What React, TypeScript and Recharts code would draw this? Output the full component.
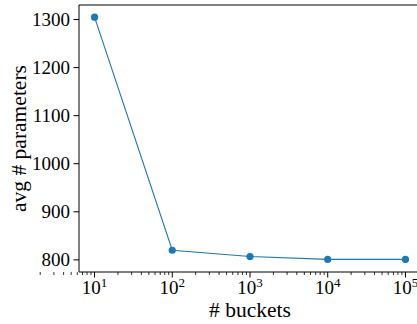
import { LineChart, Line, XAxis, YAxis } from 'recharts';

const buckets = [10, 100, 1000, 10000, 100000];
const avgParams = [1305, 820, 807, 801, 801];
const yTicks = [800, 900, 1000, 1100, 1200, 1300];
const majorTicks = [10, 100, 1000, 10000, 100000];

// minor log ticks (2..9 x 10^k) inside the visible range
const minorTicks: number[] = [];
for (let k = 0; k <= 4; k++) {
  for (let m = 2; m <= 9; m++) minorTicks.push(m * Math.pow(10, k));
}
const xTicks = [...minorTicks, ...majorTicks].sort((a, b) => a - b);

const data = buckets.map((b, i) => ({ buckets: b, params: avgParams[i] }));

const FONT = '"Liberation Serif", "Times New Roman", serif';
const COLOR = '#1f77b4';
const X_DOMAIN = [Math.pow(10, 0.8), Math.pow(10, 5.2)];
const Y_DOMAIN = [774.75, 1330.25];
const CHART_W = 430;
const MARGIN = { top: 5, right: 9, bottom: 0, left: 0 };

// y ticks plus the top edge of the axes box (drawn as the top spine)
const yAxisTicks = [...yTicks, Y_DOMAIN[1]];

function LogTick({ x, y, payload }: any) {
  const v = payload.value;
  const exp = Math.log10(v);
  const major = Math.abs(exp - Math.round(exp)) < 1e-9;
  if (!major) {
    return <line x1={x} x2={x} y1={y} y2={y + 3} stroke="#000" strokeWidth={0.8} />;
  }
  return (
    <g>
      <line x1={x} x2={x} y1={y} y2={y + 5.5} stroke="#000" strokeWidth={1} />
      <text x={x} y={y + 22} textAnchor="middle" fontFamily={FONT} fill="#000">
        <tspan fontSize={19}>10</tspan>
        <tspan fontSize={13} dy={-7}>
          {Math.round(exp)}
        </tspan>
      </text>
    </g>
  );
}

function ValueTick({ x, y, payload }: any) {
  if (payload.value === Y_DOMAIN[1]) {
    // top spine
    return <line x1={x} x2={CHART_W} y1={y} y2={y} stroke="#000" strokeWidth={1.2} />;
  }
  return (
    <g>
      <line x1={x - 5.5} x2={x} y1={y} y2={y} stroke="#000" strokeWidth={1} />
      <text x={x - 9} y={y + 6.5} textAnchor="end" fontFamily={FONT} fontSize={19} fill="#000">
        {payload.value}
      </text>
    </g>
  );
}

function XLabel({ viewBox }: any) {
  const cx = viewBox.x + viewBox.width / 2;
  return (
    <text x={cx} y={317} textAnchor="middle" fontFamily={FONT} fontSize={21.5} fill="#000">
      # buckets
    </text>
  );
}

function YLabel({ viewBox }: any) {
  const cy = viewBox.y + viewBox.height / 2;
  return (
    <text
      x={25.5}
      y={cy}
      transform={`rotate(-90, 25.5, ${cy})`}
      textAnchor="middle"
      fontFamily={FONT}
      fontSize={21.5}
      fill="#000"
    >
      avg # parameters
    </text>
  );
}

export default function App() {
  return (
    <div
      style={{
        position: 'absolute',
        left: 0,
        top: 0,
        width: 417,
        height: 324,
        overflow: 'hidden',
        background: '#fff',
      }}
    >
      <LineChart width={CHART_W} height={324} data={data} margin={MARGIN}>
        <XAxis
          dataKey="buckets"
          type="number"
          scale="log"
          domain={X_DOMAIN}
          allowDataOverflow
          ticks={xTicks}
          interval={0}
          height={52}
          tickSize={0}
          tickMargin={0}
          tickLine={false}
          tick={<LogTick />}
          axisLine={{ stroke: '#000', strokeWidth: 1 }}
          label={<XLabel />}
        />
        <YAxis
          type="number"
          domain={Y_DOMAIN}
          allowDataOverflow
          ticks={yAxisTicks}
          interval={0}
          width={79}
          tickSize={0}
          tickMargin={0}
          tickLine={false}
          tick={<ValueTick />}
          axisLine={{ stroke: '#000', strokeWidth: 1 }}
          label={<YLabel />}
        />
        <Line
          dataKey="params"
          stroke={COLOR}
          strokeWidth={1.1}
          dot={{ r: 3.6, fill: COLOR, stroke: COLOR, strokeWidth: 0 }}
          activeDot={false}
          isAnimationActive={false}
        />
      </LineChart>
    </div>
  );
}
